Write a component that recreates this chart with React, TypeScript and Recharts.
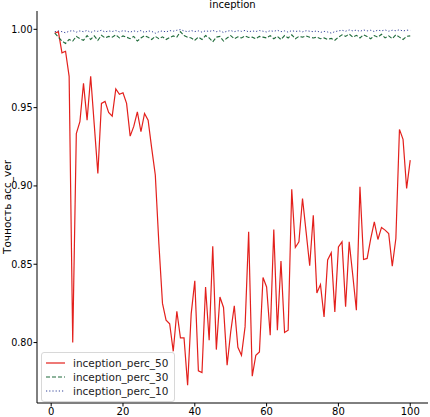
import React from 'react';
import { LineChart, Line, XAxis, YAxis, Legend } from 'recharts';

const perc50 = [
  0.9975, 0.9985, 0.985, 0.986, 0.970, 0.800, 0.9335, 0.941, 0.9655, 0.942,
  0.970, 0.939, 0.908, 0.9527, 0.954, 0.947, 0.9446, 0.9619, 0.9585, 0.9595,
  0.9527, 0.9318, 0.938, 0.9473, 0.9346, 0.9463, 0.942, 0.924, 0.907, 0.863,
  0.825, 0.8143, 0.812, 0.7944, 0.820, 0.803, 0.803, 0.7727, 0.8185, 0.8394,
  0.7819, 0.7808, 0.8355, 0.8015, 0.8615, 0.7955, 0.8291, 0.8224, 0.7855, 0.8068,
  0.8235, 0.797, 0.7919, 0.810, 0.8707, 0.7785, 0.7919, 0.794, 0.8415, 0.8355,
  0.8047, 0.8722, 0.8079, 0.8521, 0.8064, 0.8079, 0.8978, 0.8607, 0.8643, 0.892,
  0.8707, 0.849, 0.8813, 0.8317, 0.837, 0.8164, 0.8528, 0.8573, 0.8196, 0.8611,
  0.8643, 0.8228, 0.8643, 0.843, 0.8206, 0.8994, 0.853, 0.8537, 0.8664, 0.877,
  0.8658, 0.8735, 0.8718, 0.8696, 0.8488, 0.8664, 0.9361, 0.9297, 0.8984, 0.9165,
];

const perc30 = [
  0.9975, 0.995, 0.9925, 0.991, 0.9935, 0.9925, 0.9955, 0.994, 0.993, 0.996,
  0.9935, 0.9958, 0.993, 0.9962, 0.9945, 0.9955, 0.995, 0.9965, 0.9945, 0.9958,
  0.995, 0.994, 0.9955, 0.9925, 0.9945, 0.996, 0.995, 0.9935, 0.9955, 0.994,
  0.9952, 0.9935, 0.9948, 0.9958, 0.995, 0.9985, 0.996, 0.995, 0.9945, 0.993,
  0.995, 0.9935, 0.996, 0.9945, 0.992, 0.995, 0.9955, 0.9925, 0.9945, 0.996,
  0.994, 0.9952, 0.9945, 0.9958, 0.9948, 0.995, 0.994, 0.9955, 0.995, 0.9945,
  0.996, 0.994, 0.9955, 0.9935, 0.996, 0.9945, 0.9965, 0.994, 0.9955, 0.995,
  0.9958, 0.995, 0.9945, 0.995, 0.994, 0.9945, 0.9935, 0.9942, 0.993, 0.995,
  0.9965, 0.9955, 0.997, 0.995, 0.9962, 0.9945, 0.9965, 0.9955, 0.994, 0.996,
  0.995, 0.9968, 0.9945, 0.9958, 0.994, 0.9965, 0.995, 0.9935, 0.9955, 0.9958,
];

const perc10 = [
  0.9985, 0.999, 0.9985, 0.9978, 0.9988, 0.9992, 0.9982, 0.999, 0.9985, 0.9993,
  0.998, 0.999, 0.9987, 0.9994, 0.9983, 0.999, 0.9986, 0.9992, 0.9984, 0.9991,
  0.9988, 0.9982, 0.999, 0.9985, 0.9992, 0.998, 0.999, 0.9987, 0.9975, 0.9985,
  0.999, 0.9983, 0.9992, 0.9988, 0.9994, 0.9998, 0.999, 0.9985, 0.9992, 0.9986,
  0.999, 0.9982, 0.9991, 0.9986, 0.9993, 0.9985, 0.999, 0.998, 0.9988, 0.9992,
  0.9985, 0.9991, 0.9987, 0.9993, 0.9984, 0.999, 0.9986, 0.9992, 0.9988, 0.9983,
  0.9991, 0.9987, 0.9994, 0.9985, 0.999, 0.9982, 0.9992, 0.9986, 0.999, 0.9984,
  0.9991, 0.9988, 0.9985, 0.999, 0.998, 0.9987, 0.9983, 0.9976, 0.9985, 0.999,
  0.9994, 0.9988, 0.9996, 0.999, 0.9995, 0.9987, 0.9996, 0.999, 0.9994, 0.9986,
  0.9995, 0.999, 0.9996, 0.9988, 0.9994, 0.9991, 0.9997, 0.9989, 0.9995, 0.9993,
];

const xTicks = [0, 20, 40, 60, 80, 100];
const yTicks = [0.8, 0.85, 0.9, 0.95, 1.0];
const seriesNames = ['inception_perc_50', 'inception_perc_30', 'inception_perc_10'];

const data = perc50.map((v, i) => ({
  epoch: i + 1,
  p50: v,
  p30: perc30[i],
  p10: perc10[i],
}));

const font = '"DejaVu Sans", sans-serif';
const styles = [
  { stroke: '#e3201c', dash: undefined as string | undefined },
  { stroke: '#1f6b3a', dash: '4 2' },
  { stroke: '#34449a', dash: '1.2 2' },
];

function LegendBox() {
  return (
    <div
      style={{
        border: '1px solid #d8d8d8',
        borderRadius: 3,
        background: 'rgba(255,255,255,0.8)',
        padding: '3px 6px 3px 3px',
        fontFamily: font,
        fontSize: 10.5,
        color: '#222',
        lineHeight: '14px',
      }}
    >
      {seriesNames.map((n, i) => (
        <div key={n} style={{ display: 'flex', alignItems: 'center', height: 14 }}>
          <svg width={21} height={8} style={{ marginRight: 7 }}>
            <line x1={1} y1={4} x2={20} y2={4} stroke={styles[i].stroke} strokeWidth={1.2} strokeDasharray={styles[i].dash} />
          </svg>
          <span>{n}</span>
        </div>
      ))}
    </div>
  );
}

export default function App() {
  return (
    <div style={{ position: 'absolute', left: 0, top: 0, width: 430, height: 417, background: '#fff' }}>
      <div style={{ position: 'absolute', left: 0, width: 465, top: 0, textAlign: 'center', fontFamily: font, fontSize: 10, lineHeight: '10px', color: '#000' }}>
        inception
      </div>
      <div
        style={{
          position: 'absolute', left: 7, top: 207, fontFamily: font, fontSize: 10.5, color: '#000',
          transform: 'translate(-50%, -50%) rotate(-90deg)', whiteSpace: 'nowrap',
        }}
      >
        Точность acc_ver
      </div>
      <LineChart width={430} height={417} data={data} margin={{ top: 11, right: 2, left: 0, bottom: 0 }}>
        <XAxis
          dataKey="epoch" type="number" domain={[-3.95, 104.95]} ticks={xTicks} allowDataOverflow
          height={14} tickSize={3.5} tickMargin={1} stroke="#000" strokeWidth={1}
          tick={{ fontSize: 10, fill: '#000', fontFamily: font }}
        />
        <XAxis xAxisId="top" orientation="top" dataKey="epoch" type="number" domain={[-3.95, 104.95]} height={0} tick={false} tickLine={false} stroke="#000" />
        <YAxis
          type="number" domain={[0.7614, 1.0117]} ticks={yTicks} allowDataOverflow
          width={37} tickSize={3.5} tickMargin={1} stroke="#000"
          tickFormatter={(v: number) => v.toFixed(2)}
          tick={{ fontSize: 9.6, fill: '#000', fontFamily: font }}
        />
        <YAxis yAxisId="right" orientation="right" width={0} tick={false} tickLine={false} stroke="#000" domain={[0.7614, 1.0117]} />
        <Line dataKey="p50" stroke={styles[0].stroke} strokeWidth={1.2} dot={false} isAnimationActive={false} />
        <Line dataKey="p30" stroke={styles[1].stroke} strokeWidth={1.1} strokeDasharray={styles[1].dash} dot={false} isAnimationActive={false} />
        <Line dataKey="p10" stroke={styles[2].stroke} strokeWidth={1} strokeDasharray={styles[2].dash} dot={false} isAnimationActive={false} />
        <Legend
          layout="vertical" align="center" verticalAlign="middle"
          wrapperStyle={{ left: 41, top: 352, width: 'auto', height: 'auto' }}
          content={() => <LegendBox />}
        />
      </LineChart>
    </div>
  );
}
